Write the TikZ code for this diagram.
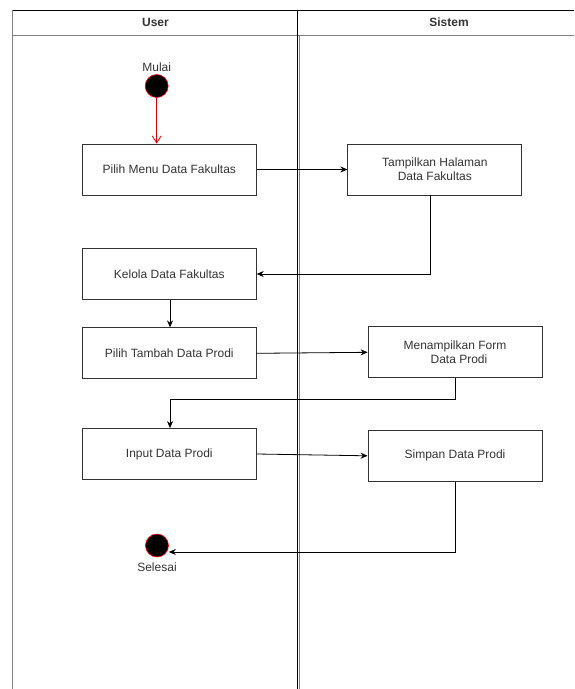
\documentclass[tikz,border=0pt]{standalone}
\usepackage{fontspec}
\setmainfont{Liberation Sans}
\usetikzlibrary{arrows.meta}
\definecolor{txt}{HTML}{333333}
\definecolor{lanegray}{HTML}{808080}
\begin{document}
\begin{tikzpicture}[x=1pt,y=-1pt,
  every node/.style={font=\fontsize{12}{14}\selectfont, text=txt},
  act/.style={draw=black!80, line width=0.8pt, minimum width=174pt, minimum height=51pt, inner sep=0pt, align=center},
  dot/.style={circle, fill=black, draw=red, line width=0.6pt, minimum size=23pt, inner sep=0pt},
  flow/.style={draw=black, line width=0.8pt, -{Stealth[length=7pt,width=6pt]}},
  lane/.style={line width=1.2pt}
]
\useasboundingbox (0,0) rectangle (574,689);
% swimlanes
\draw[lane, black] (12,10.5) -- (574,10.5);
\draw[lane, lanegray] (12,35.5) -- (574,35.5);
\draw[lane, lanegray] (12.8,10) -- (12.8,689);
\draw[lane, lanegray] (299.5,35) -- (299.5,689);
\draw[lane, black] (297.5,10) -- (297.5,689);
\node[font=\bfseries\fontsize{12}{14}\selectfont] (hu) at (155.5,22.5) {User};
\node[font=\bfseries\fontsize{12}{14}\selectfont] (hs) at (449,22.5) {Sistem};
% activities
\node[dot] (start) at (156.7,86) {};
\node (lstart) at (156.7,67) {Mulai};
\node[act] (a1) at (169.3,169.5) {Pilih Menu Data Fakultas};
\node[act] (s1) at (434.8,169.5) {Tampilkan Halaman\\Data Fakultas};
\node[act] (a2) at (169.3,274) {Kelola Data Fakultas};
\node[act] (a3) at (169.3,353.3) {Pilih Tambah Data Prodi};
\node[act] (s2) at (455,352.3) {Menampilkan Form\\\hspace{8pt}Data Prodi};
\node[act] (a4) at (169.3,454) {Input Data Prodi};
\node[act] (s3) at (455,455.8) {Simpan Data Prodi};
\node[dot] (stop) at (157,545.5) {};
\node (lstop) at (157,567) {Selesai};
% flows
\draw[flow, draw=red!85!black, -{Straight Barb[length=7pt,width=9pt]}] (start) -- (a1.north -| start);
\draw[flow] (a1.east) -- (s1.west);
\draw[flow] (s1.south -| 430,0) |- (a2.east);
\draw[flow] (a2.south -| 170,0) -- (a3.north -| 170,0);
\draw[flow] (a3.east) -- (s2.west);
\draw[flow] (s2.south -| 455.7,0) |- (170,399) -- (a4.north -| 170,0);
\draw[flow] (a4.east) -- (s3.west);
\draw[flow] (s3.south -| 455.7,0) |- (stop.east |- 0,552);
\end{tikzpicture}
\end{document}
